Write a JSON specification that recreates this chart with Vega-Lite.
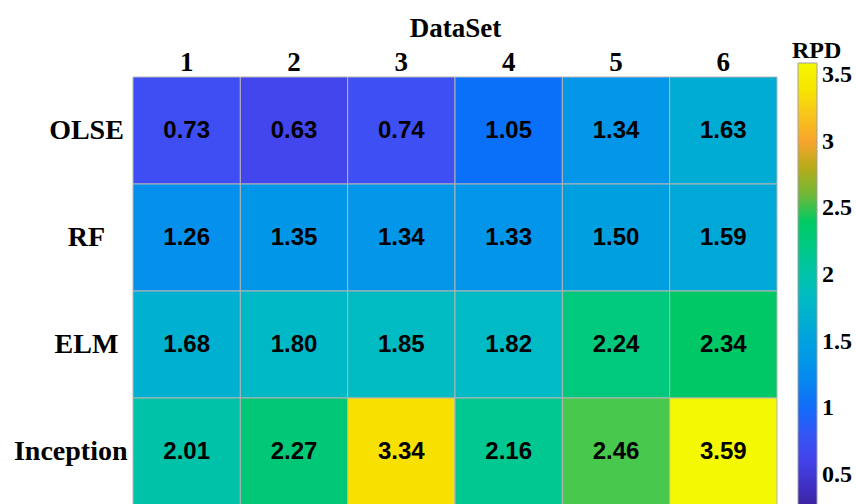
{
  "$schema": "https://vega.github.io/schema/vega-lite/v6.json",
  "width": 644,
  "height": 428,
  "autosize": {"type": "none"},
  "padding": {"left": 133, "top": 77, "right": 79, "bottom": 0},
  "background": "white",
  "data": {
    "values": [
      {"model": "OLSE", "dataset": "1", "rpd": 0.73},
      {"model": "OLSE", "dataset": "2", "rpd": 0.63},
      {"model": "OLSE", "dataset": "3", "rpd": 0.74},
      {"model": "OLSE", "dataset": "4", "rpd": 1.05},
      {"model": "OLSE", "dataset": "5", "rpd": 1.34},
      {"model": "OLSE", "dataset": "6", "rpd": 1.63},
      {"model": "RF", "dataset": "1", "rpd": 1.26},
      {"model": "RF", "dataset": "2", "rpd": 1.35},
      {"model": "RF", "dataset": "3", "rpd": 1.34},
      {"model": "RF", "dataset": "4", "rpd": 1.33},
      {"model": "RF", "dataset": "5", "rpd": 1.50},
      {"model": "RF", "dataset": "6", "rpd": 1.59},
      {"model": "ELM", "dataset": "1", "rpd": 1.68},
      {"model": "ELM", "dataset": "2", "rpd": 1.80},
      {"model": "ELM", "dataset": "3", "rpd": 1.85},
      {"model": "ELM", "dataset": "4", "rpd": 1.82},
      {"model": "ELM", "dataset": "5", "rpd": 2.24},
      {"model": "ELM", "dataset": "6", "rpd": 2.34},
      {"model": "Inception", "dataset": "1", "rpd": 2.01},
      {"model": "Inception", "dataset": "2", "rpd": 2.27},
      {"model": "Inception", "dataset": "3", "rpd": 3.34},
      {"model": "Inception", "dataset": "4", "rpd": 2.16},
      {"model": "Inception", "dataset": "5", "rpd": 2.46},
      {"model": "Inception", "dataset": "6", "rpd": 3.59}
    ]
  },
  "encoding": {
    "x": {
      "field": "dataset",
      "type": "ordinal",
      "sort": ["1", "2", "3", "4", "5", "6"],
      "scale": {"paddingInner": 0, "paddingOuter": 0},
      "title": "DataSet",
      "axis": {
        "orient": "top",
        "domain": false,
        "ticks": false,
        "tickSize": 0,
        "labelAngle": 0,
        "labelFont": "Liberation Serif",
        "labelFontWeight": "bold",
        "labelFontSize": 27,
        "labelColor": "black",
        "labelPadding": 1,
        "titleFont": "Liberation Serif",
        "titleFontWeight": "bold",
        "titleFontSize": 27,
        "titleColor": "black",
        "titlePadding": 6
      }
    },
    "y": {
      "field": "model",
      "type": "nominal",
      "sort": ["OLSE", "RF", "ELM", "Inception"],
      "scale": {"paddingInner": 0, "paddingOuter": 0},
      "title": null,
      "axis": {
        "orient": "left",
        "domain": false,
        "ticks": false,
        "tickSize": 0,
        "labelFont": "Liberation Serif",
        "labelFontWeight": "bold",
        "labelFontSize": 28,
        "labelColor": "black",
        "labelLimit": 300,
        "labelAlign": {"condition": {"test": "datum.label === 'Inception'", "value": "right"}, "value": "center"},
        "labelPadding": {"condition": {"test": "datum.label === 'Inception'", "value": 6}, "value": 47}
      }
    }
  },
  "layer": [
    {
      "mark": {"type": "rect", "stroke": "#b4b4b4", "strokeWidth": 1},
      "encoding": {
        "color": {
          "field": "rpd",
          "type": "quantitative",
          "scale": {
            "interpolate": "rgb",
            "domain": [0.2, 0.5, 0.65, 0.75, 1.05, 1.26, 1.4, 1.5, 1.65, 1.82, 2.0, 2.16, 2.34, 2.41, 2.46, 2.6, 2.7, 2.85, 3.0, 3.15, 3.34, 3.59],
            "range": ["#3a1f8f", "#4236dc", "#4448f0", "#3d50f4", "#0a70fa", "#0690ee", "#009ae6", "#00a0e0", "#00aed2", "#00bac6", "#00c2aa", "#00c890", "#00c866", "#00cc62", "#48c84c", "#70b838", "#98b422", "#c4a814", "#f8a42c", "#f8bc24", "#f8e000", "#f4f800"]
          },
          "legend": {
            "orient": "none",
            "legendX": 659,
            "legendY": -38,
            "direction": "vertical",
            "gradientLength": 452,
            "gradientThickness": 19,
            "gradientStrokeColor": "#a0a0a0",
            "gradientStrokeWidth": 1,
            "values": [0.5, 1, 1.5, 2, 2.5, 3, 3.5],
            "format": "~g",
            "labelFont": "Liberation Serif",
            "labelFontWeight": "bold",
            "labelFontSize": 24,
            "labelColor": "black",
            "labelOffset": 5,
            "title": "RPD",
            "titleFont": "Liberation Serif",
            "titleFontWeight": "bold",
            "titleFontSize": 24,
            "titleColor": "black",
            "titlePadding": 0,
            "encode": {"title": {"update": {"dx": {"value": -6}}}}
          }
        }
      }
    },
    {
      "mark": {"type": "text", "font": "Liberation Sans", "fontWeight": "bold", "fontSize": 24, "color": "black", "baseline": "middle"},
      "encoding": {
        "text": {"field": "rpd", "type": "quantitative", "format": ".2f"}
      }
    }
  ],
  "config": {"view": {"stroke": null}}
}
